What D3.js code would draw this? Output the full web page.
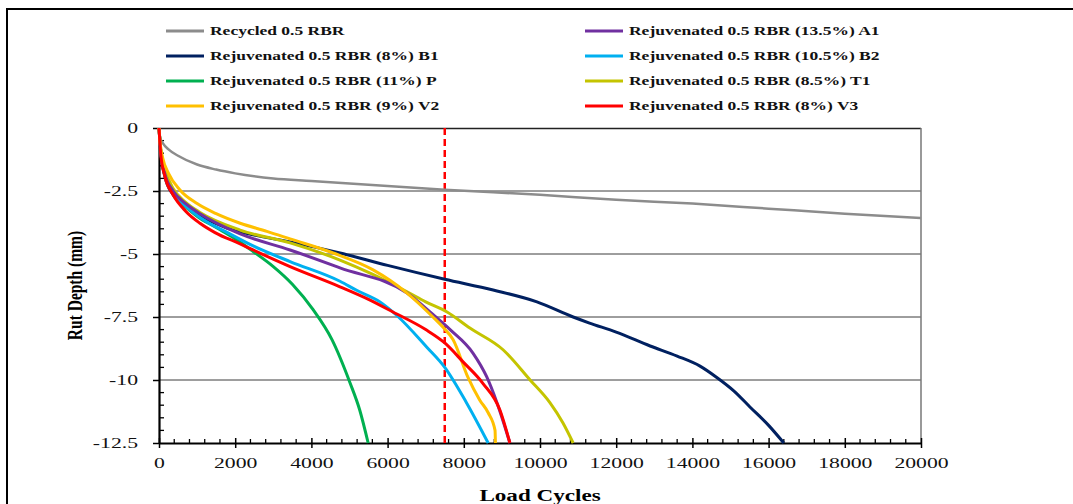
<!DOCTYPE html>
<html>
<head>
<meta charset="utf-8">
<script src="https://cdn.jsdelivr.net/npm/d3@7"></script>
<style>
  body { margin: 0; background: #fff; }
  text { font-family: "Liberation Serif", "Times New Roman", serif; }
</style>
</head>
<body>
<svg width="1073" height="504"></svg>
<script>
// data: [load cycles, rut depth mm]
var recycled = [[0,0],[30,-0.4],[100,-0.6],[250,-0.85],[500,-1.1],[1000,-1.45],[1500,-1.65],[2000,-1.8],[3000,-2.0],[4000,-2.1],[5000,-2.2],[6000,-2.3],[7500,-2.45],[10000,-2.65],[12000,-2.85],[14000,-3.0],[16000,-3.2],[18000,-3.4],[20000,-3.57]];
var a1 = [[0,0],[50,-1.0],[150,-1.8],[370,-2.5],[700,-3.0],[1076,-3.4],[2130,-4.2],[3440,-4.84],[4750,-5.55],[6510,-6.55],[7190,-7.4],[7640,-8.0],[8240,-8.93],[8600,-9.87],[8870,-10.9],[9210,-12.5]];
var b1 = [[0,0],[50,-1.0],[160,-1.95],[370,-2.65],[700,-3.1],[1000,-3.4],[1780,-3.97],[2500,-4.25],[3440,-4.52],[4750,-4.96],[6000,-5.45],[7500,-6.0],[8770,-6.43],[9920,-6.9],[10870,-7.5],[11300,-7.74],[12000,-8.1],[12890,-8.65],[13600,-9.05],[14200,-9.45],[14640,-9.9],[15100,-10.45],[15510,-11.07],[16000,-11.8],[16400,-12.5]];
var b2 = [[0,0],[50,-1.0],[150,-1.85],[370,-2.6],[700,-3.1],[1076,-3.55],[1860,-4.2],[2500,-4.7],[3440,-5.3],[4750,-6.08],[5200,-6.45],[5800,-6.9],[6250,-7.45],[7030,-8.7],[7500,-9.5],[8070,-10.9],[8640,-12.5]];
var p = [[0,0],[50,-1.0],[200,-2.1],[500,-2.8],[1000,-3.5],[1500,-3.95],[2000,-4.4],[2470,-4.9],[3000,-5.5],[3500,-6.2],[4040,-7.2],[4540,-8.4],[5010,-10.1],[5270,-11.2],[5490,-12.5]];
var t1 = [[0,0],[50,-0.9],[150,-1.6],[370,-2.4],[700,-2.95],[1076,-3.35],[2130,-4.05],[3440,-4.56],[4750,-5.24],[5600,-5.8],[6510,-6.5],[7000,-6.9],[7560,-7.3],[8160,-7.94],[9030,-8.8],[9740,-10.0],[10260,-10.9],[10600,-11.7],[10870,-12.5]];
var v2 = [[0,0],[30,-0.6],[100,-1.2],[250,-1.8],[550,-2.46],[1000,-3.0],[1500,-3.4],[2130,-3.78],[2830,-4.1],[3440,-4.4],[4570,-4.96],[5620,-5.63],[6510,-6.55],[7190,-7.5],[7450,-7.9],[7720,-8.4],[8110,-9.9],[8420,-10.8],[8640,-11.3],[8820,-12.0],[8830,-12.5]];
var v3 = [[0,0],[50,-1.1],[150,-1.9],[370,-2.65],[700,-3.3],[1076,-3.78],[1470,-4.15],[2130,-4.6],[2470,-4.84],[3440,-5.5],[4750,-6.3],[5500,-6.8],[6140,-7.3],[7000,-8.0],[7500,-8.53],[7980,-9.28],[8500,-10.13],[8950,-11.2],[9210,-12.5]];

var names = ["Recycled 0.5 RBR", "Rejuvenated 0.5 RBR (13.5%) A1",
             "Rejuvenated 0.5 RBR (8%) B1", "Rejuvenated 0.5 RBR (10.5%) B2",
             "Rejuvenated 0.5 RBR (11%) P", "Rejuvenated 0.5 RBR (8.5%) T1",
             "Rejuvenated 0.5 RBR (9%) V2", "Rejuvenated 0.5 RBR (8%) V3"];
var colors = ["#8c8c8c", "#7030a0", "#002060", "#00b0f0", "#00b050", "#c4c400", "#ffc000", "#ff0000"];
var seriesData = [recycled, a1, b1, b2, p, t1, v2, v3];
// draw order: last on top
var drawOrder = [0, 2, 4, 3, 5, 1, 6, 7];

var xTicks = [0, 2000, 4000, 6000, 8000, 10000, 12000, 14000, 16000, 18000, 20000];
var yTicks = [0, -2.5, -5, -7.5, -10, -12.5];
var limitCycles = 7500;

// the source picture is stretched sideways, so text is too
var stretch = 1.4;

var svg = d3.select("svg"),
    margin = {top: 128, right: 152, bottom: 61, left: 159},
    width = +svg.attr("width") - margin.left - margin.right,
    height = +svg.attr("height") - margin.top - margin.bottom;

// outer frame of the figure
svg.append("line").attr("x1", 7).attr("x2", 1073).attr("y1", 9).attr("y2", 9)
    .attr("stroke", "#000").attr("stroke-width", 2);
svg.append("line").attr("x1", 7).attr("x2", 7).attr("y1", 8).attr("y2", 504)
    .attr("stroke", "#000").attr("stroke-width", 2);

var g = svg.append("g").attr("transform", "translate(" + margin.left + "," + margin.top + ")");

var x = d3.scaleLinear().domain([0, 20000]).range([0, width]);
var y = d3.scaleLinear().domain([-12.5, 0]).range([height, 0]);

// gridlines
g.append("g")
    .selectAll("line").data(yTicks.slice(1, -1)).join("line")
    .attr("x1", 0).attr("x2", width)
    .attr("y1", function(d) { return y(d); }).attr("y2", function(d) { return y(d); })
    .attr("stroke", "#3c3c3c").attr("stroke-width", 1);

// top + right frame of plot
g.append("line").attr("x1", 0).attr("x2", width).attr("y1", 0.5).attr("y2", 0.5)
    .attr("stroke", "#222").attr("stroke-width", 1.5);
g.append("line").attr("x1", width).attr("x2", width).attr("y1", 0).attr("y2", height)
    .attr("stroke", "#777").attr("stroke-width", 1.5);

// minor ticks
var xMinor = d3.range(0, 20001, 400).filter(function(d) { return d % 2000 !== 0; });
var yMinor = d3.range(0, -12.51, -0.5).filter(function(d) { return Math.abs(d % 2.5) > 0.01; });

g.append("g").selectAll("line").data(xMinor).join("line")
    .attr("x1", function(d) { return x(d); }).attr("x2", function(d) { return x(d); })
    .attr("y1", height - 4).attr("y2", height)
    .attr("stroke", "#000").attr("stroke-width", 1.3);
g.append("g").selectAll("line").data(yMinor).join("line")
    .attr("y1", function(d) { return y(d); }).attr("y2", function(d) { return y(d); })
    .attr("x1", 0).attr("x2", 5)
    .attr("stroke", "#000").attr("stroke-width", 1.3);

var xAxis = d3.axisBottom(x).tickValues(xTicks).tickSizeInner(5).tickSizeOuter(0)
    .tickFormat(d3.format("d"));
var yAxis = d3.axisLeft(y).tickValues(yTicks).tickSizeInner(6).tickSizeOuter(0)
    .tickFormat(function(d) { return String(d); });

g.append("g")
    .attr("transform", "translate(0," + height + ")")
    .call(customXAxis);
g.append("g")
    .call(customYAxis);

function customXAxis(g) {
    g.call(xAxis);
    g.select(".domain").attr("stroke", "#000").attr("stroke-width", 2);
    g.selectAll(".tick line").attr("y1", -5).attr("stroke-width", 1.5);
    g.selectAll(".tick text").attr("font-size", 15.5).attr("fill", "#111")
        .attr("font-family", "Liberation Serif, serif")
        .attr("y", 25).attr("dy", 0)
        .attr("transform", "scale(" + stretch + ",1)");
}

function customYAxis(g) {
    g.call(yAxis);
    g.select(".domain").attr("stroke", "#000").attr("stroke-width", 2.2);
    g.selectAll(".tick line").attr("stroke-width", 1.5);
    g.selectAll(".tick text").attr("font-size", 15.5).attr("fill", "#111")
        .attr("font-family", "Liberation Serif, serif")
        .attr("x", -21 / stretch)
        .attr("transform", "scale(" + stretch + ",1)");
}

// limit line at 7500 cycles
g.append("line")
    .attr("x1", x(limitCycles)).attr("x2", x(limitCycles))
    .attr("y1", 0).attr("y2", height)
    .attr("stroke", "#ff0000").attr("stroke-width", 2.5)
    .attr("stroke-dasharray", "7,4");

var line = d3.line()
    .x(function(d) { return x(d[0]); })
    .y(function(d) { return y(d[1]); })
    .curve(d3.curveMonotoneX);

drawOrder.forEach(function(i) {
    g.append("path")
        .datum(seriesData[i])
        .attr("fill", "none")
        .attr("stroke", colors[i])
        .attr("stroke-width", i === 0 ? 2.5 : 3)
        .attr("stroke-linejoin", "round")
        .attr("d", line);
});

// legend, two columns
var legend = svg.append("g");
names.forEach(function(n, i) {
    var col = i % 2, row = Math.floor(i / 2);
    var lx = col === 0 ? 166 : 585, ly = 31 + row * 25;
    legend.append("line").attr("x1", lx).attr("x2", lx + 38).attr("y1", ly).attr("y2", ly)
        .attr("stroke", colors[i]).attr("stroke-width", 3);
    legend.append("text")
        .attr("transform", "translate(" + (lx + 44) + "," + ly + ") scale(" + stretch + ",1)")
        .attr("dy", "0.35em")
        .attr("font-size", 12.5).attr("font-weight", "bold").attr("fill", "#111")
        .text(n);
});

// axis titles
svg.append("text")
    .attr("transform", "translate(82," + (margin.top + height / 2) + ") rotate(-90) scale(1," + stretch + ")")
    .attr("text-anchor", "middle")
    .attr("font-size", 15.5).attr("font-weight", "bold")
    .text("Rut Depth (mm)");
svg.append("text")
    .attr("transform", "translate(" + (margin.left + width / 2) + ",501) scale(1.32,1)")
    .attr("text-anchor", "middle")
    .attr("font-size", 17.5).attr("font-weight", "bold")
    .text("Load Cycles");
</script>
</body>
</html>
